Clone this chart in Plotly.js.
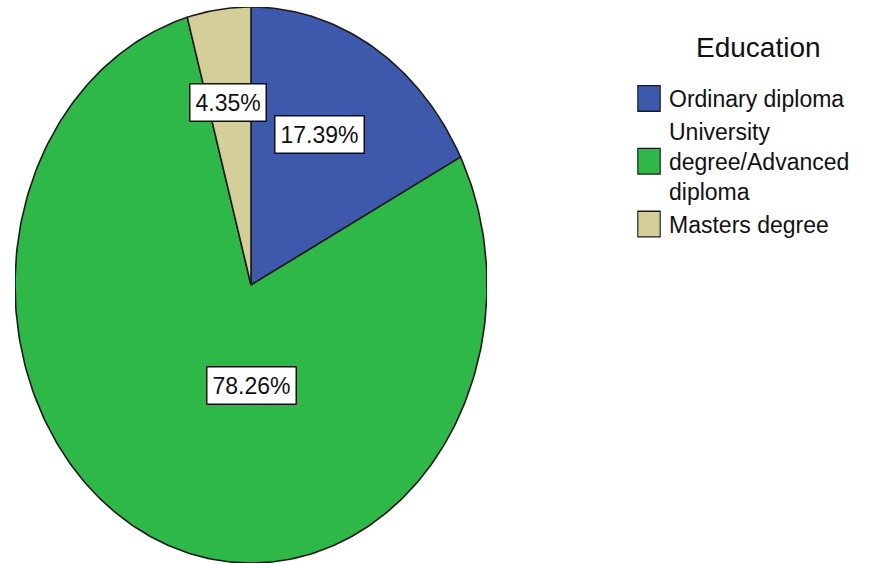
<!DOCTYPE html>
<html>
<head>
<meta charset="utf-8">
<script src="https://cdn.plot.ly/plotly-3.0.1.min.js"></script>
<style>html,body{margin:0;padding:0;background:#fff;}#chart{width:872px;height:564px;}</style>
</head>
<body>
<div id="chart"></div>
<script>
// ---- data ----
const categories = ["Ordinary diploma", "University degree/Advanced diploma", "Masters degree"];
const legendLabels = ["Ordinary diploma", "University<br>degree/Advanced<br>diploma", "Masters degree"];
const percents = [17.39, 78.26, 4.35];
const percentLabels = ["17.39%", "78.26%", "4.35%"];
const colors = ["#3E58AC", "#2EB848", "#D4CE98"];
const legendTitle = "Education";

// label positions inside the unit ellipse (layout, not data)
const labelPos = [[0.292, 0.543], [0.0, -0.36], [-0.097, 0.655]];

const total = percents.reduce((a, b) => a + b, 0);
const traces = [];
let cum = 0;
percents.forEach((v, i) => {
  const a0 = cum / total * 2 * Math.PI;
  cum += v;
  const a1 = cum / total * 2 * Math.PI;
  const xs = [0], ys = [0];
  const n = Math.max(8, Math.ceil((a1 - a0) / (2 * Math.PI) * 360));
  for (let k = 0; k <= n; k++) {
    const a = a0 + (a1 - a0) * k / n;
    xs.push(Math.sin(a));
    ys.push(Math.cos(a));
  }
  xs.push(0); ys.push(0);
  traces.push({
    type: "scatter", mode: "lines", x: xs, y: ys, fill: "toself",
    fillcolor: colors[i], line: {color: "#1b1b1b", width: 1.6},
    showlegend: false, hoverinfo: "text", text: categories[i] + ": " + percentLabels[i]
  });
});
// legend entries
categories.forEach((c, i) => {
  traces.push({
    type: "scatter", mode: "markers", x: [null], y: [null],
    name: legendLabels[i],
    marker: {symbol: "square", size: 16, color: colors[i], line: {color: "#1b1b1b", width: 1}}
  });
});

const FONT = "Liberation Sans, Arial, sans-serif";
const W = 872, H = 564;
const annotations = percentLabels.map((t, i) => ({
  x: labelPos[i][0], y: labelPos[i][1], xref: "x", yref: "y",
  text: t, showarrow: false,
  font: {family: FONT, size: 23, color: "#111"},
  bgcolor: "#ffffff", bordercolor: "#111", borderwidth: 1.5, borderpad: 5
}));
annotations.push({
  x: 758 / W, y: 1 - 47 / H, xref: "paper", yref: "paper",
  xanchor: "center", yanchor: "middle", showarrow: false,
  text: legendTitle, font: {family: FONT, size: 28, color: "#111"}
});

const layout = {
  width: W, height: H,
  margin: {l: 0, r: 0, t: 0, b: 0},
  paper_bgcolor: "#fff", plot_bgcolor: "#fff",
  xaxis: {domain: [15 / W, 487 / W], range: [-1, 1], visible: false, fixedrange: true},
  yaxis: {domain: [1 - 563 / H, 1 - 7 / H], range: [-1, 1], visible: false, fixedrange: true},
  showlegend: true,
  legend: {
    x: 629 / W, xanchor: "left", y: 1 - 77 / H, yanchor: "top",
    bgcolor: "rgba(0,0,0,0)",
    font: {family: FONT, size: 23, color: "#111"},
    itemclick: false, itemdoubleclick: false
  },
  annotations: annotations
};

Plotly.newPlot("chart", traces, layout, {displayModeBar: false, staticPlot: true}).then(gd => {
  // enlarge legend swatches to match the reference's bigger colour boxes
  gd.querySelectorAll(".legend .legendpoints path.scatterpts").forEach(p => {
    const t = p.getAttribute("transform") || "";
    p.setAttribute("transform", t + " scale(1.4,1.6)");
    p.style.strokeWidth = "0.8px";
  });
});
</script>
</body>
</html>
